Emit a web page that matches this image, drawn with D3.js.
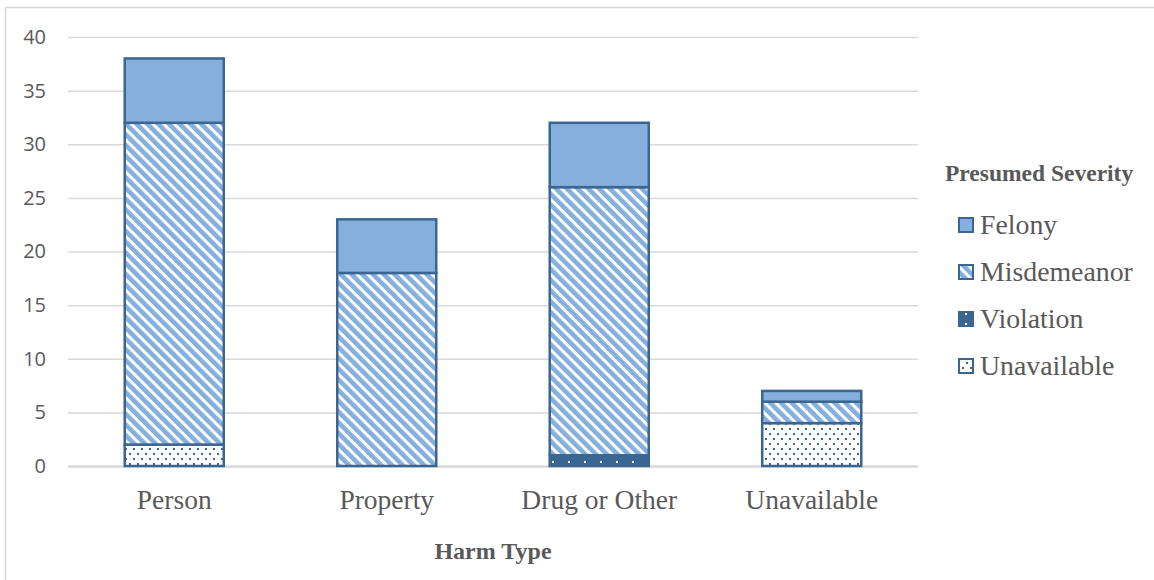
<!DOCTYPE html>
<html>
<head>
<meta charset="utf-8">
<script src="https://cdn.jsdelivr.net/npm/d3@7"></script>
<style>
  body { margin: 0; background: #fff; }
  .tick text { font-family: 'Open Sans', sans-serif; font-size: 20px; fill: #595959; }
  .axis-title, .legend-title { font-family: 'Liberation Serif', serif; font-weight: bold; fill: #595959; }
  .legend-label { font-family: 'Liberation Serif', serif; font-size: 27.8px; fill: #595959; }
</style>
</head>
<body>
<svg width="1154" height="580"></svg>
<script>
const categories = ['Person', 'Property', 'Drug or Other', 'Unavailable'];
const unavailable = [2, 0, 0, 4];
const violation = [0, 0, 1, 0];
const misdemeanor = [30, 18, 25, 2];
const felony = [6, 5, 6, 1];
const yTicks = [0, 5, 10, 15, 20, 25, 30, 35, 40];

const seriesKeys = ['Unavailable', 'Violation', 'Misdemeanor', 'Felony'];
const legendKeys = ['Felony', 'Misdemeanor', 'Violation', 'Unavailable'];

const svg = d3.select('svg');
const width = +svg.attr('width');
const height = +svg.attr('height');

const dark = '#3b6691';
const light = '#85afdc';

// frame: only the top and left edges show in the crop
svg.append('path')
  .attr('d', `M5.5,${height} V7.5 H${width}`)
  .attr('fill', 'none').attr('stroke', '#d9d9d9').attr('stroke-width', 1.5);

// patterns
const defs = svg.append('defs');
const stripe = defs.append('pattern')
  .attr('id', 'stripes')
  .attr('patternUnits', 'userSpaceOnUse')
  .attr('width', 7.6).attr('height', 8)
  .attr('patternTransform', 'rotate(-45)');
stripe.append('rect').attr('width', 7.6).attr('height', 8).attr('fill', '#fff');
stripe.append('rect').attr('width', 4.6).attr('height', 8).attr('fill', light);

const dots = defs.append('pattern')
  .attr('id', 'dots')
  .attr('patternUnits', 'userSpaceOnUse')
  .attr('width', 8).attr('height', 10);
dots.append('rect').attr('width', 8).attr('height', 10).attr('fill', '#fff');
dots.append('rect').attr('x', 1).attr('y', 1).attr('width', 2).attr('height', 2).attr('fill', dark);
dots.append('rect').attr('x', 5).attr('y', 6).attr('width', 2).attr('height', 2).attr('fill', dark);

const vdots = defs.append('pattern')
  .attr('id', 'vdots')
  .attr('patternUnits', 'userSpaceOnUse')
  .attr('width', 16).attr('height', 10);
vdots.append('rect').attr('width', 16).attr('height', 10).attr('fill', dark);
vdots.append('rect').attr('x', 4).attr('y', 4).attr('width', 2).attr('height', 2).attr('fill', '#fff');

const fills = {
  Felony: light,
  Misdemeanor: 'url(#stripes)',
  Violation: 'url(#vdots)',
  Unavailable: 'url(#dots)'
};

const margin = {top: 37, left: 68, right: 236, bottom: 114};
const innerWidth = width - margin.left - margin.right;
const innerHeight = height - margin.top - margin.bottom;

const g = svg.append('g').attr('transform', `translate(${margin.left},${margin.top})`);

const xScale = d3.scaleBand()
  .domain(categories)
  .range([0, innerWidth])
  .paddingInner(0.534)
  .paddingOuter(0.267);

const yScale = d3.scaleLinear()
  .domain([0, 40])
  .range([innerHeight, 0]);

const yAxis = d3.axisLeft(yScale)
  .tickValues(yTicks)
  .tickSize(-innerWidth)
  .tickPadding(22);

const yAxisG = g.append('g').call(yAxis);
yAxisG.select('.domain').remove();
yAxisG.selectAll('.tick line')
  .attr('stroke', '#d9d9d9')
  .attr('stroke-width', d => d === 0 ? 2.5 : 1.5);

// stacked data
const table = categories.map((c, i) => ({
  category: c,
  Unavailable: unavailable[i],
  Violation: violation[i],
  Misdemeanor: misdemeanor[i],
  Felony: felony[i]
}));
const stacked = d3.stack().keys(seriesKeys)(table);

g.selectAll('g.series').data(stacked)
  .enter().append('g')
  .attr('class', 'series')
  .selectAll('rect').data(s => s.map(d => Object.assign({key: s.key}, d)).filter(d => d[1] > d[0]))
  .enter().append('rect')
  .attr('x', d => xScale(d.data.category))
  .attr('y', d => yScale(d[1]))
  .attr('width', xScale.bandwidth())
  .attr('height', d => yScale(d[0]) - yScale(d[1]))
  .attr('fill', d => fills[d.key])
  .attr('stroke', dark)
  .attr('stroke-width', 2.5);

// category labels
const xAxis = d3.axisBottom(xScale).tickSize(0).tickPadding(0);
const xAxisG = g.append('g')
  .attr('transform', `translate(0,${innerHeight})`)
  .call(xAxis);
xAxisG.select('.domain').remove();
xAxisG.selectAll('.tick text')
  .attr('dy', null)
  .attr('y', 43)
  .style('font-family', 'Liberation Serif, serif')
  .style('font-size', '27.5px');

g.append('text')
  .attr('class', 'axis-title')
  .attr('x', innerWidth / 2)
  .attr('y', innerHeight + 93)
  .attr('text-anchor', 'middle')
  .style('font-size', '24px')
  .text('Harm Type');

// legend
const legend = svg.append('g').attr('transform', 'translate(945,0)');
legend.append('text')
  .attr('class', 'legend-title')
  .attr('x', 0).attr('y', 181)
  .style('font-size', '23.5px')
  .text('Presumed Severity');

const items = legend.selectAll('g.item').data(legendKeys)
  .enter().append('g')
  .attr('class', 'item')
  .attr('transform', (d, i) => `translate(0,${225 + i * 47})`);
items.append('rect')
  .attr('x', 14).attr('y', -7)
  .attr('width', 14).attr('height', 14)
  .attr('fill', d => fills[d])
  .attr('stroke', dark)
  .attr('stroke-width', 2);
items.append('text')
  .attr('class', 'legend-label')
  .attr('x', 35).attr('y', 9)
  .text(d => d);
</script>
</body>
</html>
